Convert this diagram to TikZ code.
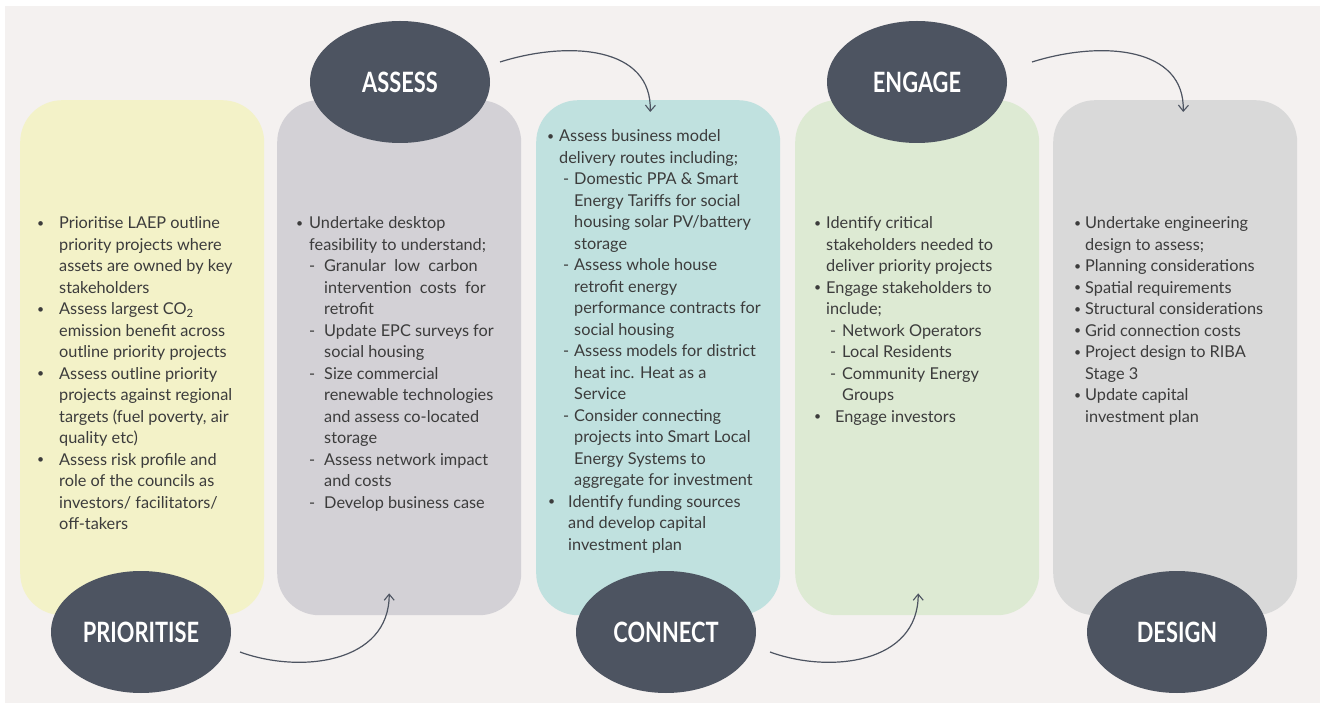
\documentclass[tikz,border=0pt]{standalone}
\usepackage{fontspec}
\usepackage{graphicx}
\setmainfont{Lato}
\newfontfamily\titlefont{Lato}
\usetikzlibrary{shapes.geometric,arrows.meta,calc}
\definecolor{bgc}{HTML}{F4F1F0}
\definecolor{cyel}{HTML}{F3F2C8}
\definecolor{cgra}{HTML}{D3D1D6}
\definecolor{ctea}{HTML}{C0E1DF}
\definecolor{cgre}{HTML}{DDEAD3}
\definecolor{clgr}{HTML}{D9D9D9}
\definecolor{cdark}{HTML}{4D5461}
\definecolor{ctxt}{HTML}{3C3C3C}
\newcommand\dotb{\raisebox{0.12em}{\scalebox{0.75}{\textbullet}}}
\newcommand\bu[2]{\makebox[#2pt][l]{\hspace*{#1pt}\dotb}}
\newcommand\ind[1]{\hspace*{#1pt}}
\newcommand\dsh[2]{\makebox[#2pt][l]{\hspace*{#1pt}-}}
\tikzset{
  panel/.style={rounded corners=42pt, minimum width=244pt, minimum height=515pt, inner sep=0pt, draw=none},
  phase/.style={ellipse, fill=cdark, minimum width=180pt, minimum height=122pt, inner sep=0pt, text=white,
     font=\titlefont\bfseries\fontsize{28}{28}\selectfont},
  body/.style={anchor=base west, inner sep=0pt, text=ctxt, font=\fontsize{16.3}{21.5}\selectfont},
  flow/.style={draw=cdark, line width=1.2pt, -{Straight Barb[length=6pt,width=10pt,line width=1.1pt]}}
}
\newcommand\ttl[1]{\scalebox{0.78}[1]{#1}}
\begin{document}
\begin{tikzpicture}[x=1pt,y=-1pt]
\useasboundingbox (0,0) rectangle (1323,708);
\fill[white] (0,0) rectangle (1323,708);
\fill[bgc] (5,6) rectangle (1320,703);
% panels
\node[panel, fill=cyel, anchor=north west] (p1) at (20,100) {};
\node[panel, fill=cgra, anchor=north west] (p2) at (277,100) {};
\node[panel, fill=ctea, anchor=north west] (p3) at (536,100) {};
\node[panel, fill=cgre, anchor=north west] (p4) at (795,100) {};
\node[panel, fill=clgr, anchor=north west] (p5) at (1053,100) {};
% phases
\node[phase] (prio) at (141,632) {\ttl{PRIORITISE}};
\node[phase] (assess) at (400,82) {\ttl{ASSESS}};
\node[phase] (conn) at (666,632) {\ttl{CONNECT}};
\node[phase] (eng) at (917,82) {\ttl{ENGAGE}};
\node[phase] (des) at (1177,632) {\ttl{DESIGN}};
% arrow end points
\coordinate (a1s) at ($(prio.center)+(99,20)$);
\coordinate (a1e) at ($(p2.south)+(-10,-22)$);
\coordinate (a2s) at ($(assess.center)+(100,-20)$);
\coordinate (a2e) at ($(p3.north)+(-8,12)$);
\coordinate (a3s) at ($(conn.center)+(104,20)$);
\coordinate (a3e) at ($(p4.south)+(1,-22)$);
\coordinate (a4s) at ($(eng.center)+(115,-20)$);
\coordinate (a4e) at ($(p5.north)+(8,12)$);
\draw[flow] (a1s) .. controls ($(a1s)+(60,22)$) and ($(a1e)+(0,70)$) .. (a1e);
\draw[flow] (a2s) .. controls ($(a2s)+(70,-22)$) and ($(a2e)+(2,-65)$) .. (a2e);
\draw[flow] (a3s) .. controls ($(a3s)+(60,22)$) and ($(a3e)+(0,70)$) .. (a3e);
\draw[flow] (a4s) .. controls ($(a4s)+(70,-22)$) and ($(a4e)+(2,-65)$) .. (a4e);
% texts
\node[body] (t1) at (37,229) {\parbox[t]{235pt}{\raggedright
\bu{0}{22}Prioritise LAEP outline\\
\ind{22}priority projects where\\
\ind{22}assets are owned by key\\
\ind{22}stakeholders\\
\bu{0}{22}Assess largest CO\textsubscript{2}\\
\ind{22}emission benefit across\\
\ind{22}outline priority projects\\
\bu{0}{22}Assess outline priority\\
\ind{22}projects against regional\\
\ind{22}targets (fuel poverty, air\\
\ind{22}quality etc)\\
\bu{0}{22}Assess risk profile and\\
\ind{22}role of the councils as\\
\ind{22}investors/ facilitators/\\
\ind{22}off-takers}};
\node[body] (t2) at (296,229) {\parbox[t]{235pt}{\raggedright
\bu{0}{13}Undertake desktop\\
\ind{13}feasibility to understand;\\
\dsh{13}{28}Granular\ \ low\ \ carbon\\
\ind{28}intervention\ \ costs\ \ for\\
\ind{28}retrofit\\
\dsh{13}{28}Update EPC surveys for\\
\ind{28}social housing\\
\dsh{13}{28}Size commercial\\
\ind{28}renewable technologies\\
\ind{28}and assess co-located\\
\ind{28}storage\\
\dsh{13}{28}Assess network impact\\
\ind{28}and costs\\
\dsh{13}{28}Develop business case}};
\node[body] (t3) at (547,142) {\parbox[t]{240pt}{\raggedright
\bu{0}{12}Assess business model\\
\ind{12}delivery routes including;\\
\dsh{16}{27}Domestic PPA \& Smart\\
\ind{27}Energy Tariffs for social\\
\ind{27}housing solar PV/battery\\
\ind{27}storage\\
\dsh{16}{27}Assess whole house\\
\ind{27}retrofit energy\\
\ind{27}performance contracts for\\
\ind{27}social housing\\
\dsh{16}{27}Assess models for district\\
\ind{27}heat inc. Heat as a\\
\ind{27}Service\\
\dsh{16}{27}Consider connecting\\
\ind{27}projects into Smart Local\\
\ind{27}Energy Systems to\\
\ind{27}aggregate for investment\\
\bu{1}{21}Identify funding sources\\
\ind{21}and develop capital\\
\ind{21}investment plan}};
\node[body] (t4) at (814,229) {\parbox[t]{235pt}{\raggedright
\bu{0}{12}Identify critical\\
\ind{12}stakeholders needed to\\
\ind{12}deliver priority projects\\
\bu{0}{12}Engage stakeholders to\\
\ind{12}include;\\
\dsh{16}{28}Network Operators\\
\dsh{16}{28}Local Residents\\
\dsh{16}{28}Community Energy\\
\ind{28}Groups\\
\bu{0}{21}Engage investors}};
\node[body] (t5) at (1074,229) {\parbox[t]{235pt}{\raggedright
\bu{0}{11}Undertake engineering\\
\ind{11}design to assess;\\
\bu{0}{11}Planning considerations\\
\bu{0}{11}Spatial requirements\\
\bu{0}{11}Structural considerations\\
\bu{0}{11}Grid connection costs\\
\bu{0}{11}Project design to RIBA\\
\ind{11}Stage 3\\
\bu{0}{11}Update capital\\
\ind{11}investment plan}};
\end{tikzpicture}
\end{document}
